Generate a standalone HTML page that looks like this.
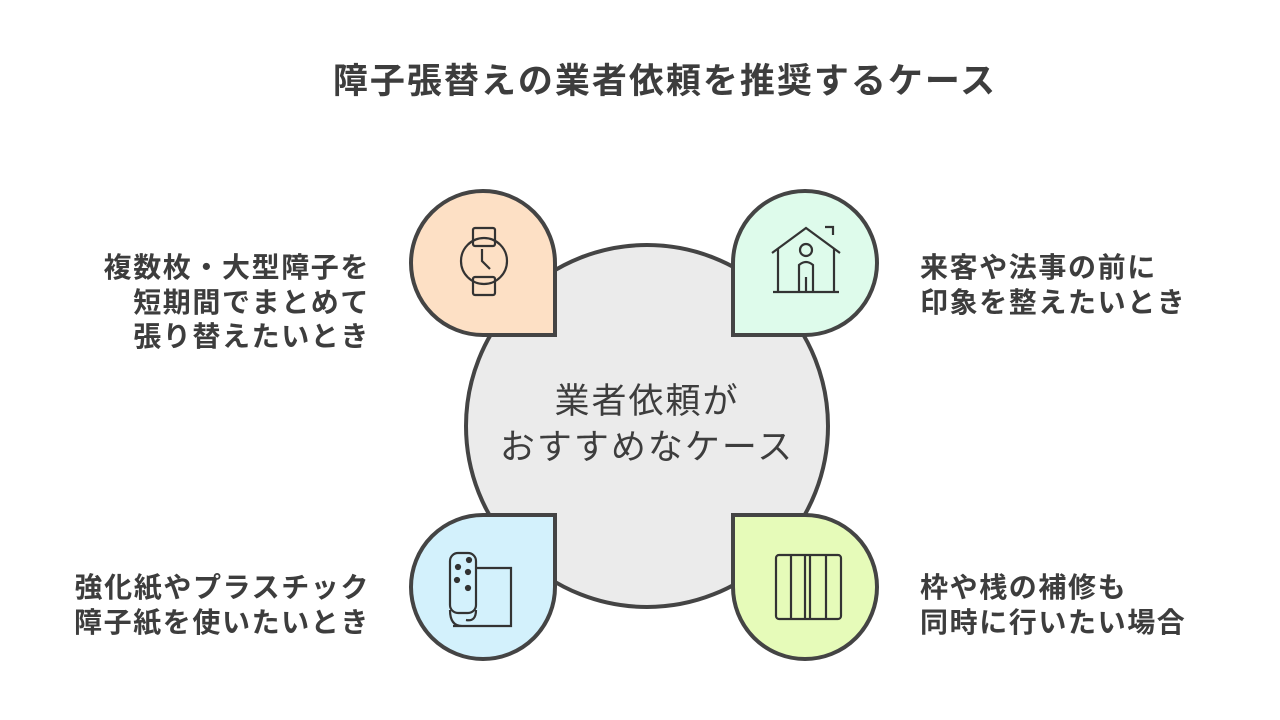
<!DOCTYPE html>
<html><head><meta charset="utf-8"><style>
body{margin:0;width:1280px;height:720px;background:#fff;position:relative;overflow:hidden;font-family:"Liberation Sans","Noto Sans CJK JP",sans-serif;color:#3d3d3d}
.t{position:absolute;white-space:nowrap}
.title{left:0;width:1330px;text-align:center;top:53px;font-size:35px;letter-spacing:2px;font-weight:bold}
.lab{font-size:28px;letter-spacing:1.6px;font-weight:bold;line-height:34.5px}
.c{position:absolute;left:464px;top:243px;width:358px;height:358px;border:4px solid #444;border-radius:50%;background:#ebebeb}
.p{position:absolute;width:140px;height:140px;border:4px solid #444;border-radius:50%}
svg{position:absolute}
</style></head><body>
<div class="t title">障子張替えの業者依頼を推奨するケース</div>
<div class="c"></div>
<div class="t" style="left:464px;width:366px;text-align:center;top:379px;font-size:35px;letter-spacing:2px;line-height:46px">業者依頼が<br>おすすめなケース</div>
<div class="p" style="left:409px;top:189px;background:#fde0c5;border-bottom-right-radius:0"></div>
<div class="p" style="left:731px;top:189px;background:#defbeb;border-bottom-left-radius:0"></div>
<div class="p" style="left:409px;top:513px;background:#d3f1fc;border-top-right-radius:0"></div>
<div class="p" style="left:731px;top:513px;background:#e6fbb9;border-top-left-radius:0"></div>
<svg style="left:455px;top:225px" width="60" height="80" viewBox="0 0 60 80" fill="none" stroke="#333" stroke-width="2.2"><rect x="18" y="3" width="22" height="18" rx="2"/><rect x="18" y="52" width="22" height="18" rx="2"/><circle cx="29" cy="36" r="23"/><path d="M27 24v12l8 8"/></svg>
<svg style="left:770px;top:225px" width="80" height="75" viewBox="0 0 80 75" fill="none" stroke="#333" stroke-width="2.2"><path d="M2 28L36 3l34 25"/><path d="M8 24v43M64 24v43M3 67h66"/><circle cx="36" cy="25" r="6"/><path d="M29 67V40q7-6 14 0v27M36 52v15"/><path d="M55 2h8v8"/></svg>
<svg style="left:445px;top:550px" width="80" height="80" viewBox="0 0 80 80" fill="none" stroke="#333" stroke-width="2.2"><rect x="5" y="3" width="26" height="60" rx="8"/><path d="M31 18h35v58H8M5 60q0 16 12 16"/><path d="M31 60q0 12-10 10"/><circle cx="24" cy="10" r="2" fill="#333"/><circle cx="13" cy="17" r="2" fill="#333"/><circle cx="23" cy="22" r="2" fill="#333"/><circle cx="12" cy="30" r="2" fill="#333"/><circle cx="23" cy="38" r="2" fill="#333"/></svg>
<svg style="left:773px;top:552px" width="72" height="72" viewBox="0 0 72 72" fill="none" stroke="#333" stroke-width="2.2"><rect x="3" y="3" width="65" height="64" rx="3"/><path d="M18 3v64M32 3v64M37 3v64M53 3v64"/></svg>
<div class="t lab" style="right:910px;top:251px;text-align:right">複数枚・大型障子を<br>短期間でまとめて<br>張り替えたいとき</div>
<div class="t lab" style="left:920px;top:251px">来客や法事の前に<br>印象を整えたいとき</div>
<div class="t lab" style="right:910px;top:571px;text-align:right">強化紙やプラスチック<br>障子紙を使いたいとき</div>
<div class="t lab" style="left:920px;top:571px">枠や桟の補修も<br>同時に行いたい場合</div>
</body></html>
